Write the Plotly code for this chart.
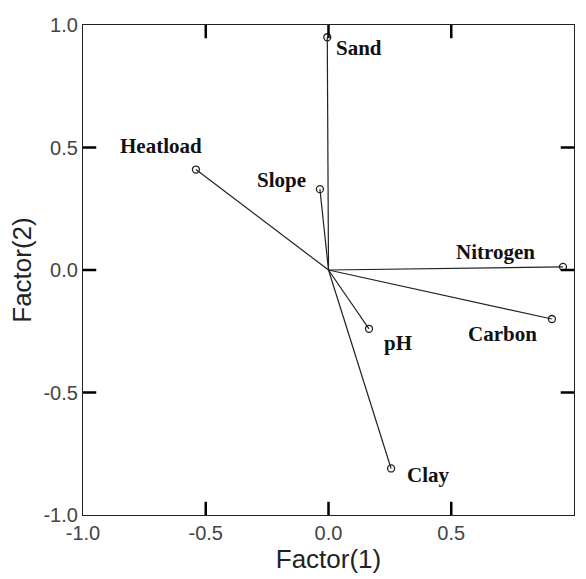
import plotly.graph_objects as go

variables = ["Heatload", "Slope", "Sand", "Nitrogen", "Carbon", "pH", "Clay"]
factor1 = [-0.54, -0.035, -0.005, 0.955, 0.91, 0.165, 0.255]
factor2 = [0.41, 0.33, 0.95, 0.013, -0.20, -0.24, -0.81]
tick_vals = [-1.0, -0.5, 0.0, 0.5, 1.0]
tick_text = ["-1.0", "-0.5", "0.0", "0.5", "1.0"]

# label pixel offsets (style)
label_dx = [-35, -38, 32, -67, -49, 29, 37]
label_dy = [24, 9, -11, 15, -15, -14, -7]

AX_MIN, AX_MAX = -1.0, 1.0
TICK_LEN = 0.054  # inside tick length in data units (~13px)

fig = go.Figure()
for name, fx, fy in zip(variables, factor1, factor2):
    fig.add_trace(go.Scatter(
        x=[0, fx], y=[0, fy], mode="lines",
        line=dict(color="#222222", width=1.2),
        showlegend=False, hoverinfo="skip"))
fig.add_trace(go.Scatter(
    x=factor1, y=factor2, mode="markers",
    marker=dict(symbol="circle-open", size=7, color="#222222", line=dict(width=1.3)),
    showlegend=False))

for name, fx, fy, dx, dy in zip(variables, factor1, factor2, label_dx, label_dy):
    fig.add_annotation(x=fx, y=fy, text=f"<b>{name}</b>", showarrow=False,
                       xshift=dx, yshift=dy, xanchor="center", yanchor="middle",
                       font=dict(family="Liberation Serif", size=21, color="#111111"))

# inside tick marks on all four sides, built from the tick values
tx, ty = [], []
for v in tick_vals[1:-1]:
    tx += [v, v, None, v, v, None, AX_MIN, AX_MIN + TICK_LEN, None, AX_MAX, AX_MAX - TICK_LEN, None]
    ty += [AX_MIN, AX_MIN + TICK_LEN, None, AX_MAX, AX_MAX - TICK_LEN, None, v, v, None, v, v, None]
fig.add_trace(go.Scatter(x=tx, y=ty, mode="lines", connectgaps=False,
                         line=dict(color="#000000", width=2.5),
                         showlegend=False, hoverinfo="skip", cliponaxis=False))

axis_common = dict(
    range=[AX_MIN, AX_MAX], tickmode="array", tickvals=tick_vals, ticktext=tick_text,
    ticks="", showline=True, linecolor="#222222", linewidth=1.2, mirror=True,
    showgrid=False, zeroline=False, showticklabels=True,
    tickfont=dict(family="Liberation Sans", size=20, color="#444444"),
)

fig.update_xaxes(**axis_common,
                 title=dict(text="Factor(1)", font=dict(family="Liberation Sans", size=26, color="#222222"), standoff=6))
fig.update_yaxes(**axis_common,
                 title=dict(text="Factor(2)", font=dict(family="Liberation Sans", size=26, color="#222222"), standoff=4))

fig.update_layout(
    width=586, height=579,
    margin=dict(l=83, r=12, t=25, b=64),
    plot_bgcolor="white", paper_bgcolor="white",
)

fig.write_html("out.html")
